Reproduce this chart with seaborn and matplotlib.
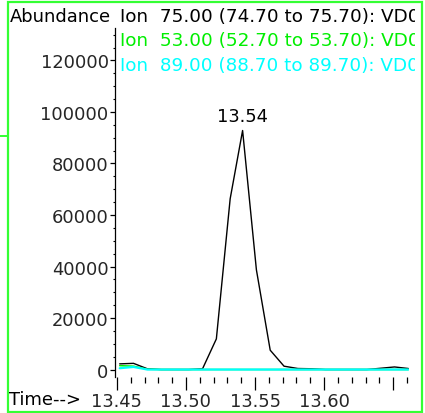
import matplotlib
matplotlib.use("Agg")
import matplotlib.pyplot as plt
from matplotlib.patches import Rectangle
from matplotlib.lines import Line2D
from matplotlib.transforms import Bbox
from matplotlib.ticker import MultipleLocator, FuncFormatter
import numpy as np
import pandas as pd
import seaborn as sns

# Retention times (min) of the scans
times = [13.452, 13.462, 13.472, 13.482, 13.492, 13.502, 13.512, 13.522,
         13.532, 13.541, 13.551, 13.561, 13.571, 13.581, 13.591, 13.601,
         13.611, 13.621, 13.631, 13.641, 13.651, 13.661]

# Extracted ion abundances
ion75 = [2200, 2400, 300, 0, 0, 0, 300, 11900, 66300, 92800, 38700, 7500,
         1300, 400, 300, 0, 0, 0, 0, 500, 1000, 400]
ion53 = [1500, 1300, 100, 0, 0, 0, 0, 0, 0, 0, 0, 0,
         0, 0, 0, 0, 0, 0, 0, 0, 0, 0]
ion89 = [500, 1000, 0, 0, 0, 0, 0, 0, 0, 0, 0, 0,
         0, 0, 0, 0, 0, 0, 0, 0, 0, 0]

legend_labels = ["Ion  75.00 (74.70 to 75.70): VD0",
                 "Ion  53.00 (52.70 to 53.70): VD0",
                 "Ion  89.00 (88.70 to 89.70): VD0"]
trace_colors = ["black", "#00ee00", "#00ffff"]
peak_label = "13.54"
x_tick_labels = ["13.45", "13.50", "13.55", "13.60"]

sns.set_style("white")
plt.rcParams["font.family"] = ["DejaVu Sans"]
FS = 12.9
FS_LEG = 13.2

W, H = 425, 414
fig = plt.figure(figsize=(W / 100, H / 100), dpi=100)
ax = fig.add_axes([115 / W, 1 - 378 / H, (409 - 115) / W, (378 - 29) / H])

df = pd.DataFrame({"time": times, "ion75": ion75, "ion53": ion53, "ion89": ion89})
widths = [1.0, 1.1, 1.6]
for col, c, lw in zip(["ion75", "ion53", "ion89"], trace_colors, widths):
    sns.lineplot(data=df, x="time", y=col, color=c, linewidth=lw, ax=ax,
                 legend=False)

ax.set_xlim(13.4486, 13.6615)
ax.set_ylim(-2900, 132600)
ax.set_xlabel("")
ax.set_ylabel("")

for s in ["top", "right", "bottom"]:
    ax.spines[s].set_visible(False)
ax.spines["left"].set_color("black")
ax.spines["left"].set_linewidth(0.9)

ax.xaxis.set_major_locator(MultipleLocator(0.05))
ax.xaxis.set_minor_locator(MultipleLocator(0.01))
ax.yaxis.set_major_locator(MultipleLocator(20000))
ax.yaxis.set_minor_locator(MultipleLocator(5000))


def xfmt(v, pos):
    s = f"{v:.2f}"
    return s if s in x_tick_labels else ""


ax.xaxis.set_major_formatter(FuncFormatter(xfmt))
ax.yaxis.set_major_formatter(FuncFormatter(lambda v, p: f"{int(round(v))}"))

ax.tick_params(axis="x", which="major", direction="out", length=9, width=0.9,
               color="black", labelsize=FS, pad=2, bottom=True)
ax.tick_params(axis="x", which="minor", direction="out", length=4, width=0.9,
               color="black", bottom=True)
ax.tick_params(axis="y", which="major", direction="out", length=3.5, width=0.9,
               color="black", labelsize=FS, pad=1, left=True)
ax.tick_params(axis="y", which="minor", direction="out", length=1.5, width=0.8,
               color="black", left=True)

# Peak annotation
ipk = int(np.argmax(ion75))
ax.annotate(peak_label, xy=(times[ipk], ion75[ipk]), xytext=(0, 4),
            textcoords="offset points", ha="center", va="bottom",
            fontsize=FS, color="black")

# Frame around the whole panel
border = Rectangle((7.5 / W, 1.5 / H), (422 - 7.5) / W, (411.5 - 1.5) / H,
                   transform=fig.transFigure, fill=False,
                   edgecolor="#33ff33", linewidth=1.6)
fig.add_artist(border)
fig.add_artist(Line2D([0, 7.5 / W], [1 - 137 / H, 1 - 137 / H],
                      transform=fig.transFigure, color="#33ff33", linewidth=1.4))

clip = Bbox([[8, 0], [415, H]])

fig.text(10 / W, 1 - 17 / H, "Abundance", ha="left", va="center",
         fontsize=FS, color="black")
fig.text(9 / W, 1 - 400 / H, "Time-->", ha="left", va="center",
         fontsize=FS, color="black")

for i, (lab, c) in enumerate(zip(legend_labels, trace_colors)):
    y = [17, 41, 66][i]
    t = fig.text(120 / W, 1 - y / H, lab, ha="left", va="center",
                 fontsize=FS_LEG, color=c)
    t.set_clip_box(clip)
    t.set_clip_on(True)

fig.savefig("out.png", dpi=100)
